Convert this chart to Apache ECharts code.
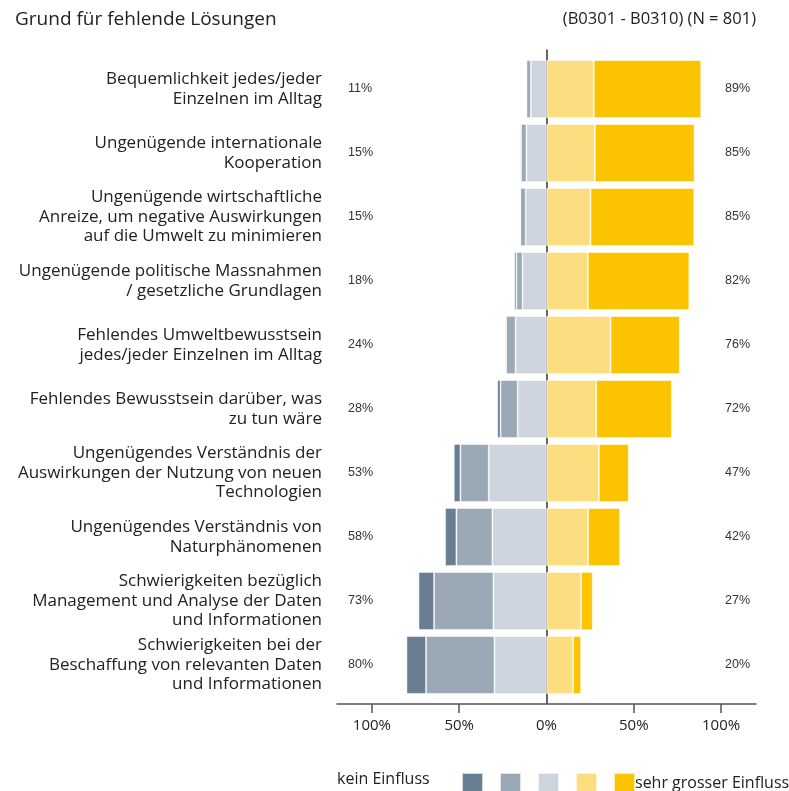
<!DOCTYPE html>
<html>
<head>
<meta charset="utf-8">
<script src="https://cdn.jsdelivr.net/npm/echarts@6/dist/echarts.min.js"></script>
<style>
  html, body { margin: 0; padding: 0; background: #fff; }
  #chart { width: 789px; height: 791px; }
</style>
</head>
<body>
<div id="chart"></div>
<script>
const categories = [
  "Bequemlichkeit jedes/jeder\nEinzelnen im Alltag",
  "Ungenügende internationale\nKooperation",
  "Ungenügende wirtschaftliche\nAnreize, um negative Auswirkungen\nauf die Umwelt zu minimieren",
  "Ungenügende politische Massnahmen\n/ gesetzliche Grundlagen",
  "Fehlendes Umweltbewusstsein\njedes/jeder Einzelnen im Alltag",
  "Fehlendes Bewusstsein darüber, was\nzu tun wäre",
  "Ungenügendes Verständnis der\nAuswirkungen der Nutzung von neuen\nTechnologien",
  "Ungenügendes Verständnis von\nNaturphänomenen",
  "Schwierigkeiten bezüglich\nManagement und Analyse der Daten\nund Informationen",
  "Schwierigkeiten bei der\nBeschaffung von relevanten Daten\nund Informationen",
];

// shares in %, left side (no influence) and right side (influence)
const keinEinfluss = [0.2, 0.6, 0.4, 1.2, 0.6, 1.9, 3.8, 6.5, 8.9, 11.2];
const stufe2 = [2.5, 3.1, 3.1, 3.5, 5.4, 9.8, 16.2, 20.6, 34.0, 39.2];
const stufe3 = [9.0, 11.5, 11.9, 13.7, 17.7, 16.5, 33.1, 31.0, 30.4, 29.8];
const stufe4 = [27.1, 27.7, 25.2, 23.7, 36.7, 28.5, 30.0, 23.8, 19.8, 15.2];
const sehrGrosserEinfluss = [61.5, 57.1, 59.4, 58.1, 39.6, 43.3, 17.1, 18.3, 6.7, 4.6];

const leftTotals = [11, 15, 15, 18, 24, 28, 53, 58, 73, 80];
const rightTotals = [89, 85, 85, 82, 76, 72, 47, 42, 27, 20];

const xTicks = [-100, -50, 0, 50, 100];

const colors = {
  kein: "#697e93",
  s2: "#9ba8b5",
  s3: "#cdd4dd",
  s4: "#fcde80",
  sehr: "#fcc400",
};

const font = "'Open Sans', sans-serif";
const chart = echarts.init(document.getElementById("chart"));

function barSeries(name, data, color, negative) {
  return {
    name,
    type: "bar",
    stack: "total",
    xAxisIndex: 0,
    yAxisIndex: 0,
    barWidth: 58,
    data: negative ? data.map((v) => -v) : data,
    itemStyle: { color, borderColor: "rgba(255,255,255,0.7)", borderWidth: 0.8 },
    emphasis: { disabled: true },
  };
}

chart.setOption({
  animation: false,
  title: [
    {
      text: "Grund für fehlende Lösungen",
      left: 10, top: 5,
      textStyle: { fontFamily: font, fontSize: 19, fontWeight: "normal", color: "#222" },
    },
    {
      text: "(B0301 - B0310) (N = 801)",
      right: 28, top: 6,
      textStyle: { fontFamily: font, fontSize: 16.5, fontWeight: "normal", color: "#222" },
    },
    {
      text: "kein Einfluss",
      left: 337, top: 771, padding: 0,
      textStyle: { fontFamily: font, fontSize: 16, fontWeight: "normal", color: "#222" },
    },
  ],
  legend: {
    left: 461, top: 772, padding: 0, width: 500,
    itemWidth: 21, itemHeight: 20, itemGap: 15,
    icon: "rect",
    selectedMode: false,
    data: ["kein Einfluss", "Stufe 2", "Stufe 3", "Stufe 4", "sehr grosser Einfluss"],
    formatter: (name) => (name === "sehr grosser Einfluss" ? name : ""),
    textStyle: { fontFamily: font, fontSize: 16, color: "#222", padding: [0, 0, 0, -5] },
  },
  grid: [
    { left: 337, right: 33, top: 57, bottom: 94 },
    { left: 337, right: 33, top: 50, bottom: 87 },
  ],
  xAxis: [
    { type: "value", gridIndex: 0, min: -120, max: 120, show: false },
    {
      type: "value", gridIndex: 1, min: -120, max: 120,
      splitLine: { show: false },
      axisLine: { show: true, onZero: false, lineStyle: { color: "#555", width: 1.5 } },
      axisTick: { show: true, customValues: [-100, -50, 50, 100], length: 9, lineStyle: { color: "#555", width: 1.5 } },
      axisLabel: {
        customValues: xTicks,
        formatter: (v) => Math.abs(v) + "%",
        fontFamily: font, fontSize: 15, color: "#222", margin: 14,
      },
    },
  ],
  yAxis: [
    {
      type: "category", gridIndex: 0, inverse: true, data: categories,
      axisLine: { show: false }, axisTick: { show: false },
      axisLabel: { fontFamily: font, fontSize: 17, lineHeight: 19.5, color: "#222", margin: 15 },
    },
    {
      type: "category", gridIndex: 0, inverse: true, data: leftTotals.map((v) => v + "%"),
      position: "left",
      axisLine: { show: false }, axisTick: { show: false },
      axisLabel: { inside: true, margin: 11, fontFamily: "'Liberation Sans', Arial, sans-serif", fontSize: 12.5, color: "#333" },
    },
    {
      type: "category", gridIndex: 0, inverse: true, data: rightTotals.map((v) => v + "%"),
      position: "right",
      axisLine: { show: false }, axisTick: { show: false },
      axisLabel: { inside: true, margin: 6, fontFamily: "'Liberation Sans', Arial, sans-serif", fontSize: 12.5, color: "#333" },
    },
    {
      type: "value", gridIndex: 1, min: 0, max: 1,
      splitLine: { show: false }, axisTick: { show: false }, axisLabel: { show: false },
      axisLine: { show: true, onZero: true, lineStyle: { color: "#333", width: 1.5 } },
    },
  ],
  series: [
    barSeries("Stufe 3", stufe3, colors.s3, true),
    barSeries("Stufe 2", stufe2, colors.s2, true),
    barSeries("kein Einfluss", keinEinfluss, colors.kein, true),
    barSeries("Stufe 4", stufe4, colors.s4, false),
    barSeries("sehr grosser Einfluss", sehrGrosserEinfluss, colors.sehr, false),
  ],
});

window.addEventListener("resize", () => chart.resize());
</script>
</body>
</html>
